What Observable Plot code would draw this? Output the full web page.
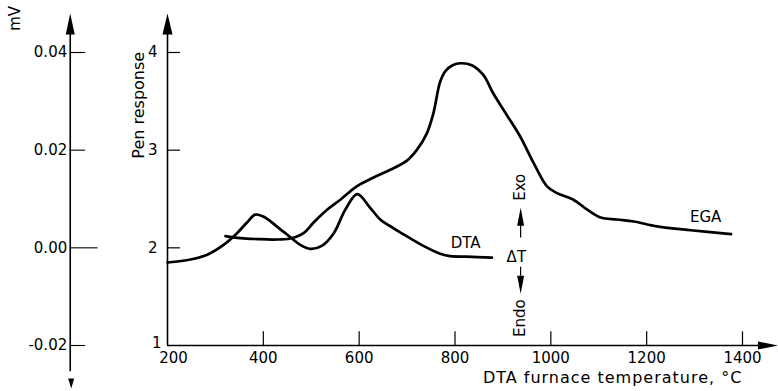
<!DOCTYPE html>
<html>
<head>
<meta charset="utf-8">
<script src="https://cdn.jsdelivr.net/npm/d3@7"></script>
<script src="https://cdn.jsdelivr.net/npm/@observablehq/plot@0.6"></script>
<style>
  html, body { margin: 0; padding: 0; background: #fff; }
  .spaced text { letter-spacing: 1px; }
</style>
</head>
<body>
<div id="chart"></div>
<script>
// EGA curve (pen response vs DTA furnace temperature)
const egaT = [321, 352, 387, 422, 456, 484, 505, 533, 560, 595, 630, 665, 699, 720, 741, 755, 769, 780, 795, 812, 835, 859, 880, 908, 936, 964, 992, 1013, 1048, 1076, 1104, 1138, 1173, 1222, 1292, 1376];
const egaV = [2.12, 2.10, 2.09, 2.085, 2.095, 2.15, 2.26, 2.39, 2.49, 2.63, 2.72, 2.80, 2.89, 3.00, 3.17, 3.38, 3.70, 3.81, 3.87, 3.89, 3.87, 3.77, 3.58, 3.36, 3.14, 2.87, 2.63, 2.56, 2.49, 2.39, 2.31, 2.29, 2.27, 2.22, 2.18, 2.14];
// DTA curve (same vertical scale; 1 unit = 0.02 mV, 2 = 0.00 mV)
const dtaT = [200, 248, 283, 317, 345, 366, 383, 400, 428, 456, 477, 498, 522, 547, 571, 596, 623, 644, 672, 699, 734, 769, 790, 824, 877];
const dtaV = [1.85, 1.88, 1.93, 2.03, 2.15, 2.26, 2.34, 2.32, 2.22, 2.11, 2.03, 1.99, 2.02, 2.15, 2.39, 2.55, 2.41, 2.29, 2.20, 2.12, 2.02, 1.94, 1.915, 1.91, 1.90];

const xTicks = [200, 400, 600, 800, 1000, 1200, 1400];
const yTicks = [1, 2, 3, 4];
const mvTicks = [-0.02, 0.00, 0.02, 0.04];
const mvLabels = ["-0.02", "0.00", "0.02", "0.04"];

const xLabel = "DTA furnace temperature, °C";
const yLabel = "Pen response";
const mvLabel = "mV";
const seriesNames = ["EGA", "DTA"];

const ega = egaT.map((t, i) => ({t, v: egaV[i]}));
const dta = dtaT.map((t, i) => ({t, v: dtaV[i]}));

// axis anchors (data units)
const xMin = 200, xArrow = 1474, yMin = 1, yTop = 4.4, mvX = -3, mvBottom = 0.68;
const mvToPen = d => 2 + d / 0.02;

function arrowSymbol(len, hw) {
  return { draw(ctx) { ctx.moveTo(0, 0); ctx.lineTo(hw, len); ctx.lineTo(-hw, len); ctx.closePath(); } };
}

const chart = Plot.plot({
  width: 778,
  height: 391,
  marginLeft: 167,
  marginRight: 36,
  marginTop: 52,
  marginBottom: 46,
  x: {domain: [200, 1400], axis: null},
  y: {domain: [1, 4], axis: null},
  style: {fontFamily: "DejaVu Sans", fontSize: "14px", color: "#000", background: "#fff"},
  marks: [
    // main axes
    Plot.ruleY([yMin], {x1: xMin, x2: xArrow - 20, stroke: "#000", strokeWidth: 1.6}),
    Plot.ruleX([xMin], {y1: yMin, y2: yTop - 0.1, stroke: "#000", strokeWidth: 1.6}),
    Plot.ruleX([mvX], {y1: mvBottom + 0.05, y2: yTop - 0.1, stroke: "#000", strokeWidth: 1.6}),
    // arrowheads
    Plot.dot([{x: xMin, y: yTop}], {x: "x", y: "y", symbol: arrowSymbol(21, 5), fill: "#000", stroke: null}),
    Plot.dot([{x: mvX, y: yTop}], {x: "x", y: "y", symbol: arrowSymbol(21, 4.5), fill: "#000", stroke: null}),
    Plot.dot([{x: mvX + 2, y: mvBottom - 0.12}], {x: "x", y: "y", symbol: arrowSymbol(10, 3), rotate: 180, fill: "#000", stroke: null}),
    Plot.dot([{x: xArrow, y: yMin}], {x: "x", y: "y", symbol: arrowSymbol(20, 4), rotate: 90, fill: "#000", stroke: null}),
    // x ticks (upward)
    Plot.ruleX(xTicks.filter(d => d > 200), {x: d => d, y1: yMin, y2: yMin + 0.14, stroke: "#000", strokeWidth: 1.2}),
    Plot.text(xTicks.filter(d => d > 200), {x: d => d, y: yMin, dy: 13, text: d => String(d), fontSize: 15}),
    Plot.text(xTicks.filter(d => d === 200), {x: d => d, y: yMin, dy: 13, dx: 6, text: d => String(d), fontSize: 15}),
    // y ticks (inward)
    Plot.ruleY(yTicks.filter(d => d > 1), {y: d => d, x1: xMin, x2: xMin + 27, stroke: "#000", strokeWidth: 1.2}),
    Plot.text(yTicks.filter(d => d > 1), {x: xMin, y: d => d, dx: -10, text: d => String(d), textAnchor: "end", fontSize: 15}),
    Plot.text(yTicks.filter(d => d === 1), {x: xMin, y: d => d, dx: -6, dy: -2, text: d => String(d), textAnchor: "end", fontSize: 15}),
    // mV ticks
    Plot.ruleY(mvTicks, {y: d => mvToPen(d), x1: mvX, x2: d => d === 0 ? mvX + 58 : mvX + 32, stroke: "#000", strokeWidth: 1.1}),
    Plot.text(mvTicks, {x: mvX, y: d => mvToPen(d), dx: -3, text: (d, i) => mvLabels[i], textAnchor: "end", fontSize: 15}),
    // axis titles
    Plot.text([xLabel], {x: 1129, y: yMin, dy: 32, text: d => d, fontSize: 16, className: "spaced"}),
    Plot.text([yLabel], {x: xMin, y: 3.46, dx: -29, rotate: -90, text: d => d, fontSize: 16}),
    Plot.text([mvLabel], {x: mvX, y: 4.35, dx: -55, rotate: -90, text: d => d, fontSize: 15}),
    // curves
    Plot.line(ega, {x: "t", y: "v", curve: "catmull-rom", stroke: "#000", strokeWidth: 2.7}),
    Plot.line(dta, {x: "t", y: "v", curve: "catmull-rom", stroke: "#000", strokeWidth: 2.7}),
    Plot.text([seriesNames[0]], {x: 1323, y: 2.31, text: d => d, fontSize: 15}),
    Plot.text([seriesNames[1]], {x: 822, y: 2.05, text: d => d, fontSize: 15}),
    // Exo / Endo indicator
    Plot.text(["Exo"], {x: 937, y: 2.62, rotate: -90, text: d => d, fontSize: 15}),
    Plot.dot([{x: 937, y: 2.41}], {x: "x", y: "y", symbol: arrowSymbol(18, 3.5), fill: "#000", stroke: null}),
    Plot.ruleX([937], {y1: 2.10, y2: 2.24, stroke: "#000", strokeWidth: 1.2}),
    Plot.text(["ΔT"], {x: 928, y: 1.90, text: d => d, fontSize: 15}),
    Plot.ruleX([937], {y1: 1.71, y2: 1.80, stroke: "#000", strokeWidth: 1.2}),
    Plot.dot([{x: 937, y: 1.53}], {x: "x", y: "y", symbol: arrowSymbol(18, 3.5), rotate: 180, fill: "#000", stroke: null}),
    Plot.text(["Endo"], {x: 937, y: 1.28, rotate: -90, text: d => d, fontSize: 15})
  ]
});
document.getElementById("chart").appendChild(chart);
</script>
</body>
</html>
